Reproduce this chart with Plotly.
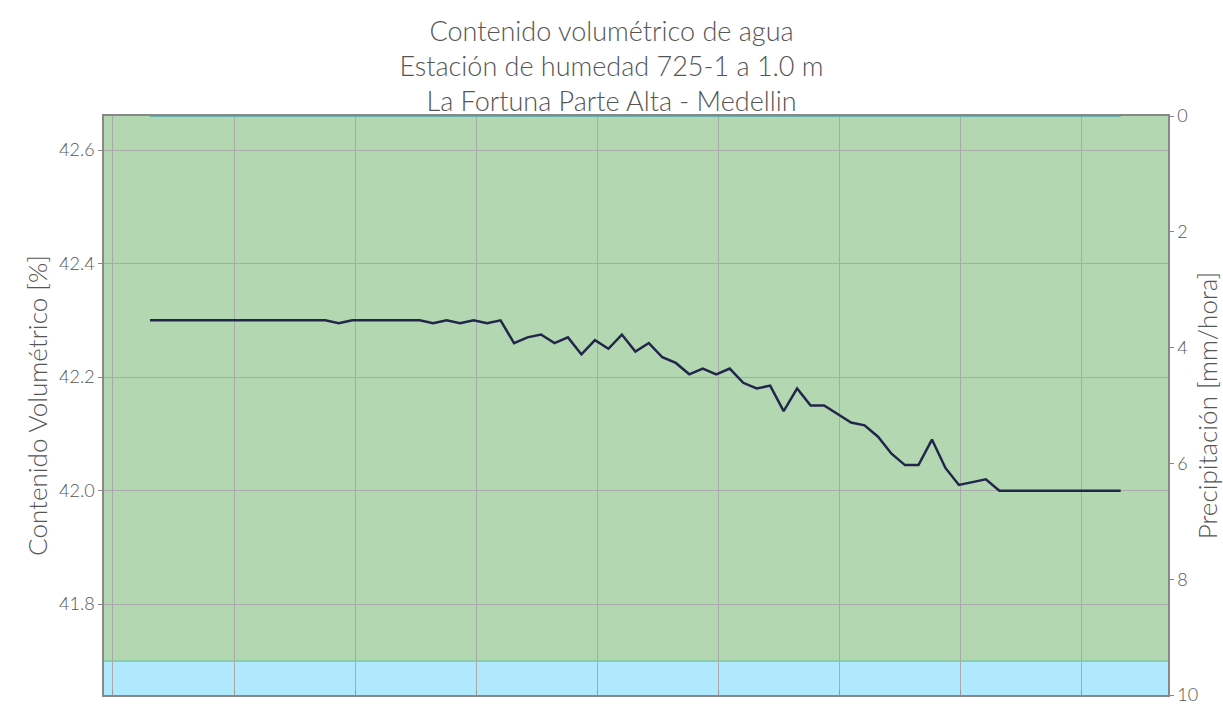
import plotly.graph_objects as go

# Hourly readings of volumetric water content [%] at 1.0 m depth
contenido = [
    42.30, 42.30, 42.30, 42.30, 42.30, 42.30, 42.30, 42.30, 42.30, 42.30,
    42.30, 42.30, 42.30, 42.30, 42.295, 42.30, 42.30, 42.30, 42.30, 42.30,
    42.30, 42.295, 42.30, 42.295, 42.30, 42.295, 42.30, 42.26, 42.27, 42.275,
    42.26, 42.27, 42.24, 42.265, 42.25, 42.275, 42.245, 42.26, 42.235, 42.225,
    42.205, 42.215, 42.205, 42.215, 42.19, 42.18, 42.185, 42.14, 42.18, 42.15,
    42.15, 42.135, 42.12, 42.115, 42.095, 42.065, 42.045, 42.045, 42.09, 42.04,
    42.01, 42.015, 42.02, 42.00, 42.00, 42.00, 42.00, 42.00, 42.00, 42.00,
    42.00, 42.00, 42.00,
]
# Rainfall over the same period [mm/hora]
precipitacion = [0.0] * len(contenido)
muestras = list(range(len(contenido)))

umbral = 41.7          # boundary between the two shaded zones
y_rango = [41.64, 42.66]
y2_rango = [10, 0]
grid_x = [-2.75 + 8.98 * k for k in range(9)]

titulo = ("Contenido volumétrico de agua<br>"
          "Estación de humedad 725-1 a 1.0 m<br>"
          "La Fortuna Parte Alta - Medellin")

FUENTE = "Lato"
GRIS = "#555555"

fig = go.Figure()

fig.add_trace(go.Scatter(
    x=muestras, y=precipitacion, yaxis="y2", mode="lines",
    line=dict(color="#4aa3a8", width=1.5), showlegend=False,
    hoverinfo="skip",
))
fig.add_trace(go.Scatter(
    x=muestras, y=contenido, mode="lines",
    line=dict(color="#22264a", width=2.5), showlegend=False,
))

# Shaded moisture zones
fig.add_shape(type="rect", xref="paper", yref="y", x0=0, x1=1,
              y0=umbral, y1=y_rango[1], layer="below",
              fillcolor="#b3d7b1", line=dict(width=0))
fig.add_shape(type="rect", xref="paper", yref="y", x0=0, x1=1,
              y0=y_rango[0], y1=umbral, layer="below",
              fillcolor="#b0e8fd", line=dict(width=0))
fig.add_shape(type="line", xref="paper", yref="y", x0=0, x1=1,
              y0=umbral, y1=umbral, layer="below",
              line=dict(color="#7cc7a0", width=1.5))

fig.update_layout(
    width=1223, height=708,
    margin=dict(l=104, r=55, t=116, b=13),
    paper_bgcolor="white", plot_bgcolor="white",
    font=dict(family=FUENTE, color=GRIS, size=16, weight=300),
    title=dict(text=titulo, x=0.5, xanchor="center",
               y=1 - 41 / 708, yanchor="top", yref="container",
               font=dict(family=FUENTE, size=27, color=GRIS, weight=300)),
    xaxis=dict(range=[-3.415, 75.51], tickmode="array", tickvals=grid_x,
               showticklabels=False, ticks="inside", ticklen=5,
               tickcolor="#999999", automargin=False,
               showgrid=True, gridcolor="#aaaaaa", gridwidth=1,
               zeroline=False, showline=True, linecolor="#888888",
               linewidth=1.5, mirror=True),
    yaxis=dict(range=y_rango, tickvals=[41.8, 42.0, 42.2, 42.4, 42.6],
               ticktext=["41.8", "42.0", "42.2", "42.4", "42.6"],
               ticks="outside", ticklen=4, tickcolor="#888888",
               automargin=False,
               showgrid=True, gridcolor="#aaaaaa", gridwidth=1,
               zeroline=False, showline=True, linecolor="#888888",
               linewidth=1.5, mirror=True,
               tickfont=dict(size=18, color=GRIS),
               title=dict(text="Contenido Volumétrico [%]",
                          font=dict(size=26, color=GRIS), standoff=4)),
    yaxis2=dict(range=y2_rango, overlaying="y", side="right",
                tickvals=[0, 2, 4, 6, 8, 10], ticks="outside", ticklen=4,
                tickcolor="#888888", showgrid=False, zeroline=False,
                automargin=False,
                showline=True, linecolor="#888888", linewidth=1.5,
                tickfont=dict(size=18, color=GRIS),
                title=dict(text="Precipitación [mm/hora]",
                           font=dict(size=26, color=GRIS), standoff=2)),
)

fig.write_html("out.html")
